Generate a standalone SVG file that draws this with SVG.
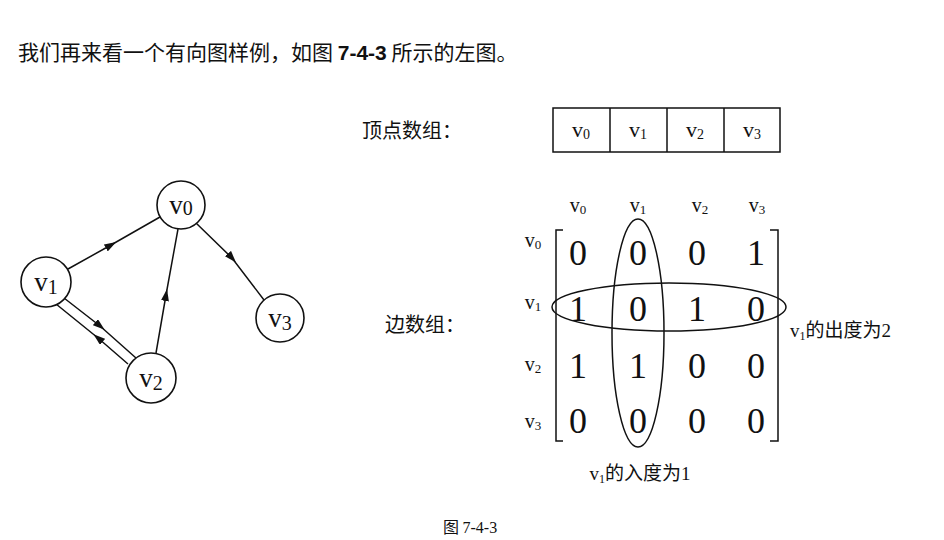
<svg xmlns="http://www.w3.org/2000/svg" width="944" height="540" viewBox="0 0 944 540">
<defs>
<style>
.cn{font-family:"Noto Sans CJK SC","Liberation Serif",serif;fill:#111}
.sr{font-family:"Liberation Serif",serif;fill:#111}
.nd{fill:#fff;stroke:#111;stroke-width:1.6}
.ln{stroke:#111;stroke-width:1.5;fill:none}
.ed{stroke:#111;stroke-width:1.5;fill:none;marker-mid:url(#ah)}
</style>
<marker id="ah" viewBox="0 0 12 8" refX="6" refY="4" markerWidth="12" markerHeight="8" markerUnits="userSpaceOnUse" orient="auto">
<path d="M0,0 L12,4 L0,8 Z" fill="#111"/>
</marker>
</defs>
<rect width="944" height="540" fill="#fff"/>
<text class="cn" x="18" y="60" font-size="21">我们再来看一个有向图样例，如图 <tspan font-family="Liberation Sans" font-weight="bold">7-4-3</tspan> 所示的左图。</text>
<g id="connectors">
<polyline class="ed" points="68,269 111,245 160,217"/>
<polyline class="ed" points="196,223 232,258 264,300"/>
<polyline class="ed" points="156,353 166,295 178,229"/>
<polyline class="ed" points="64,298 100,326 136,358"/>
<polyline class="ed" points="128,364 98,338 56,304"/>
</g>
<g id="v0"><circle class="nd" cx="181" cy="205" r="24"/><text class="sr" x="181" y="214" font-size="27" text-anchor="middle">v<tspan font-size="20" dy="1">0</tspan></text></g>
<g id="v1"><circle class="nd" cx="46" cy="282" r="25"/><text class="sr" x="46" y="291" font-size="27" text-anchor="middle">v<tspan font-size="20" dy="3">1</tspan></text></g>
<g id="v2"><circle class="nd" cx="151" cy="378" r="25"/><text class="sr" x="151" y="387" font-size="27" text-anchor="middle">v<tspan font-size="20" dy="3">2</tspan></text></g>
<g id="v3"><circle class="nd" cx="280" cy="318" r="24"/><text class="sr" x="280" y="327" font-size="27" text-anchor="middle">v<tspan font-size="20" dy="3">3</tspan></text></g>
<g id="vertex-array">
<text class="cn" x="362" y="138" font-size="20">顶点数组：</text>
<rect class="ln" x="553" y="108" width="227" height="44"/>
<line class="ln" x1="610" y1="108" x2="610" y2="152"/>
<line class="ln" x1="667" y1="108" x2="667" y2="152"/>
<line class="ln" x1="724" y1="108" x2="724" y2="152"/>
<g class="sr" font-size="22" text-anchor="middle">
<text x="581" y="137">v<tspan font-size="14" dy="2">0</tspan></text>
<text x="638" y="137">v<tspan font-size="14" dy="2">1</tspan></text>
<text x="695" y="137">v<tspan font-size="14" dy="2">2</tspan></text>
<text x="752" y="137">v<tspan font-size="14" dy="2">3</tspan></text>
</g>
</g>
<g id="edge-array">
<text class="cn" x="385" y="332" font-size="20">边数组：</text>
<g class="sr" font-size="20" text-anchor="middle">
<text x="578" y="212">v<tspan font-size="13" dy="2">0</tspan></text>
<text x="638" y="212">v<tspan font-size="13" dy="2">1</tspan></text>
<text x="700" y="212">v<tspan font-size="13" dy="2">2</tspan></text>
<text x="757" y="212">v<tspan font-size="13" dy="2">3</tspan></text>
<text x="533" y="247">v<tspan font-size="13" dy="2">0</tspan></text>
<text x="533" y="309">v<tspan font-size="13" dy="2">1</tspan></text>
<text x="533" y="371">v<tspan font-size="13" dy="2">2</tspan></text>
<text x="533" y="428">v<tspan font-size="13" dy="2">3</tspan></text>
</g>
<polyline class="ln" stroke-width="2" points="563,230 556,230 556,441 563,441"/>
<polyline class="ln" stroke-width="2" points="770,230 778,230 778,441 770,441"/>
<g class="sr" font-size="36" text-anchor="middle">
<text x="578" y="265">0</text><text x="638" y="265">0</text><text x="697" y="265">0</text><text x="756" y="265">1</text>
<text x="578" y="321">1</text><text x="638" y="321">0</text><text x="697" y="321">1</text><text x="756" y="321">0</text>
<text x="578" y="378">1</text><text x="638" y="378">1</text><text x="697" y="378">0</text><text x="756" y="378">0</text>
<text x="578" y="433">0</text><text x="638" y="433">0</text><text x="697" y="433">0</text><text x="756" y="433">0</text>
</g>
<ellipse class="ln" cx="638" cy="333" rx="26" ry="114"/>
<ellipse class="ln" cx="669" cy="307" rx="117" ry="24"/>
<text class="cn" x="790" y="337" font-size="19"><tspan font-family="Liberation Serif">v</tspan><tspan font-family="Liberation Serif" font-size="12" dy="3">1</tspan><tspan dy="-3">的出度为</tspan><tspan font-family="Liberation Serif">2</tspan></text>
<text class="cn" x="640" y="480" font-size="19" text-anchor="middle"><tspan font-family="Liberation Serif">v</tspan><tspan font-family="Liberation Serif" font-size="12" dy="3">1</tspan><tspan dy="-3">的入度为</tspan><tspan font-family="Liberation Serif">1</tspan></text>
</g>
<text class="cn" x="470" y="533" font-size="16" text-anchor="middle">图 <tspan font-family="Liberation Serif">7-4-3</tspan></text>
</svg>
